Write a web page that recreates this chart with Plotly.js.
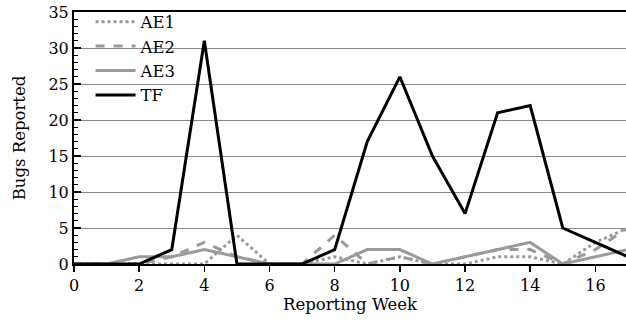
<!DOCTYPE html>
<html>
<head>
<meta charset="utf-8">
<script src="https://cdn.plot.ly/plotly-3.0.1.min.js"></script>
<style>html,body{margin:0;padding:0;background:#fff;}#chart{width:626px;height:325px;}</style>
</head>
<body>
<div id="chart"></div>
<script>
const weeks = [0,1,2,3,4,5,6,7,8,9,10,11,12,13,14,15,16,17];
const ae1 = [0,0,0,0,0,4,0,0,1,0,1,0,0,1,1,0,3,5];
const ae2 = [0,0,0,1,3,1,0,0,4,0,1,0,1,2,2,0,2,5];
const ae3 = [0,0,1,1,2,1,0,0,0,2,2,0,1,2,3,0,1,2];
const tf  = [0,0,0,2,31,0,0,0,2,17,26,15,7,21,22,5,3,1];
const seriesNames = ["AE1","AE2","AE3","TF"];
const xTicks = [0,2,4,6,8,10,12,14,16];
const yTicks = [0,5,10,15,20,25,30,35];

const gray = "#9a9a9a";
const traces = [
  {x: weeks, y: ae1, name: seriesNames[0], mode: "lines", line: {color: gray, width: 3, dash: "dot"}},
  {x: weeks, y: ae2, name: seriesNames[1], mode: "lines", line: {color: gray, width: 3, dash: "dash"}},
  {x: weeks, y: ae3, name: seriesNames[2], mode: "lines", line: {color: gray, width: 3}},
  {x: weeks, y: tf,  name: seriesNames[3], mode: "lines", line: {color: "#000", width: 3}}
];
const SERIF = "DejaVu Serif";
const layout = {
  width: 626, height: 325,
  margin: {l: 74, r: 0, t: 12, b: 61},
  paper_bgcolor: "#fff", plot_bgcolor: "#fff",
  font: {family: SERIF, color: "#000", size: 16},
  showlegend: true,
  legend: {x: 0.03, y: 1.03, xanchor: "left", yanchor: "top", bgcolor: "rgba(255,255,255,0)", borderwidth: 0,
           itemwidth: 40,
           font: {family: SERIF, size: 16.5, color: "#000"}, traceorder: "normal"},
  shapes: [{type: "rect", xref: "paper", yref: "paper", x0: 0.014, x1: 0.2, y0: 0.61, y1: 0.994,
            fillcolor: "#fff", line: {width: 0}, layer: "between"}],
  xaxis: {
    range: [0, 16.94], tickvals: xTicks, ticktext: xTicks.map(String),
    ticks: "outside", ticklen: 6, tickwidth: 1.5, tickcolor: "#000",
    showline: true, linecolor: "#000", linewidth: 2, mirror: true,
    showgrid: false, zeroline: false,
    title: {text: "Reporting Week", font: {family: SERIF, size: 16.5, color: "#000"}, standoff: 2},
    tickfont: {family: SERIF, size: 16, color: "#000"}
  },
  yaxis: {
    range: [0, 35], tickvals: yTicks, ticktext: yTicks.map(String),
    ticks: "inside", ticklen: 7, tickwidth: 1.5, tickcolor: "#000",
    minor: {dtick: 1, ticks: "inside", ticklen: 4, tickwidth: 1, tickcolor: "#000", showgrid: false},
    showline: true, linecolor: "#000", linewidth: 2,
    showgrid: true, gridcolor: "#888", gridwidth: 1, zeroline: false,
    title: {text: "Bugs Reported", font: {family: SERIF, size: 16.5, color: "#000"}, standoff: 19},
    tickfont: {family: SERIF, size: 16, color: "#000"}
  }
};
Plotly.newPlot("chart", traces, layout, {displayModeBar: false, staticPlot: true});
</script>
</body>
</html>
